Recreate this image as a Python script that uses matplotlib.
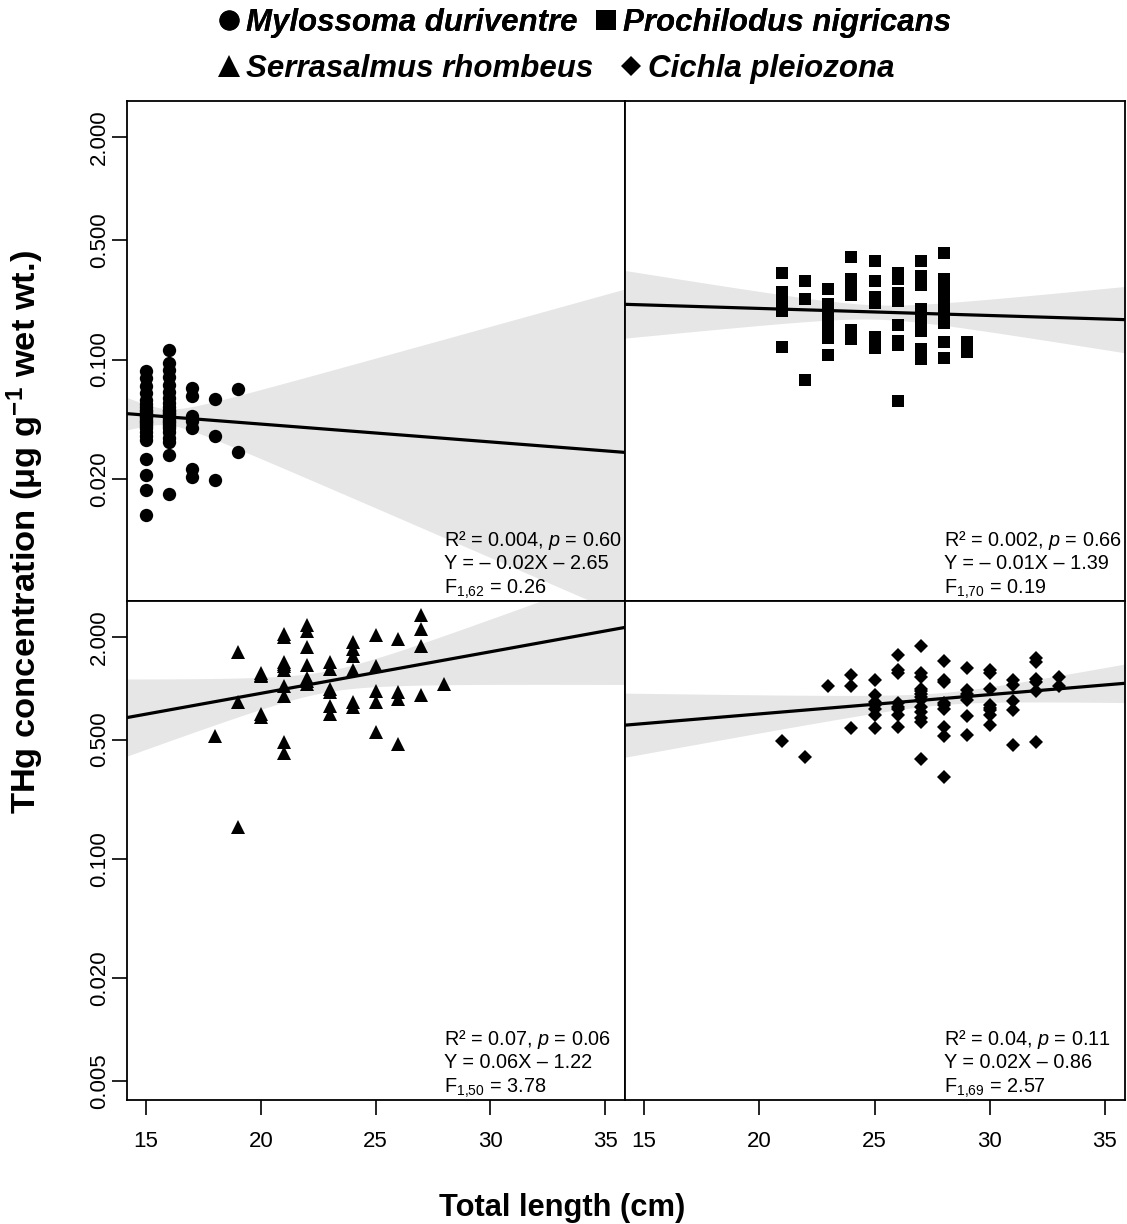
import numpy as np
import matplotlib
matplotlib.use('Agg')
import matplotlib.pyplot as plt
from matplotlib.lines import Line2D
from matplotlib import font_manager

plt.rcParams['font.family'] = ['Liberation Sans', 'DejaVu Sans']
plt.rcParams['mathtext.fontset'] = 'custom'
plt.rcParams['mathtext.rm'] = 'Liberation Sans'
plt.rcParams['mathtext.it'] = 'Liberation Sans:italic'
plt.rcParams['mathtext.bf'] = 'Liberation Sans:bold'

species = ['Mylossoma duriventre', 'Prochilodus nigricans',
           'Serrasalmus rhombeus', 'Cichla pleiozona']

# ---- Mylossoma duriventre: total length (cm), THg (ug/g wet wt.)
md_length = [15] * 26 + [16] * 26 + [17] * 7 + [18] * 3 + [19] * 2
md_thg = [0.0262, 0.0211, 0.0172, 0.0123,
          0.086, 0.078, 0.070, 0.064, 0.058, 0.055, 0.053, 0.051, 0.050, 0.049, 0.048,
          0.047, 0.046, 0.045, 0.044, 0.043, 0.042, 0.041, 0.040, 0.038, 0.036, 0.034,
          0.114, 0.095, 0.0278, 0.0163,
          0.087, 0.079, 0.071, 0.065, 0.060, 0.056, 0.053, 0.051, 0.050, 0.049, 0.048,
          0.047, 0.046, 0.045, 0.044, 0.043, 0.042, 0.041, 0.040, 0.038, 0.035, 0.033,
          0.068, 0.061, 0.047, 0.044, 0.040, 0.023, 0.0206,
          0.059, 0.036, 0.0197,
          0.067, 0.029]

# ---- Prochilodus nigricans
pn_length = [21] * 8 + [22] * 3 + [23] * 10 + [24] * 8 + [25] * 8 + [26] * 9 + [27] * 11 + [28] * 13 + [29] * 2
pn_thg = [0.320, 0.248, 0.238, 0.226, 0.214, 0.203, 0.192, 0.118,
          0.288, 0.226, 0.0759,
          0.258, 0.211, 0.200, 0.185, 0.172, 0.161, 0.149, 0.141, 0.134, 0.106,
          0.397, 0.296, 0.275, 0.258, 0.238, 0.149, 0.140, 0.132,
          0.377, 0.288, 0.232, 0.224, 0.214, 0.135, 0.125, 0.117,
          0.320, 0.296, 0.245, 0.232, 0.220, 0.159, 0.128, 0.122, 0.0572,
          0.377, 0.308, 0.290, 0.273, 0.197, 0.182, 0.170, 0.147, 0.115, 0.108, 0.101,
          0.420, 0.296, 0.273, 0.258, 0.240, 0.226, 0.210, 0.197, 0.186, 0.177, 0.163, 0.126, 0.102,
          0.126, 0.111]

# ---- Serrasalmus rhombeus
sr_length = [18] * 1 + [19] * 3 + [20] * 5 + [21] * 10 + [22] * 7 + [23] * 6 + [24] * 6 + [25] * 5 + [26] * 4 + [27] * 4 + [28] * 1
sr_thg = [0.527,
          1.63, 0.834, 0.153,
          1.23, 1.20, 1.18, 0.709, 0.681,
          2.08, 2.00, 1.43, 1.38, 1.34, 1.27, 1.03, 0.904, 0.486, 0.420,
          2.35, 2.17, 1.75, 1.37, 1.15, 1.10, 1.06,
          1.43, 1.30, 0.993, 0.95, 0.789, 0.709,
          1.87, 1.70, 1.55, 1.27, 0.834, 0.779,
          2.06, 1.35, 0.966, 0.834, 0.556,
          1.95, 0.953, 0.868, 0.473,
          2.69, 2.23, 1.77, 0.916,
          1.06]

# ---- Cichla pleiozona
cp_length = [21] * 1 + [22] * 1 + [23] * 1 + [24] * 3 + [25] * 7 + [26] * 8 + [27] * 13 + [28] * 9 + [29] * 7 + [30] * 8 + [31] * 5 + [32] * 6 + [33] * 2
cp_thg = [0.489,
          0.395,
          1.03,
          1.20, 1.03, 0.585,
          1.12, 0.916, 0.830, 0.80, 0.758, 0.693, 0.587,
          1.57, 1.27, 1.22, 0.822, 0.78, 0.758, 0.693, 0.593,
          1.76, 1.23, 1.16, 0.993, 0.96, 0.929, 0.891, 0.85, 0.776, 0.726, 0.670, 0.634, 0.387,
          1.44, 1.11, 1.09, 0.822, 0.80, 0.758, 0.593, 0.525, 0.303,
          1.32, 0.970, 0.929, 0.90, 0.848, 0.684, 0.530,
          1.28, 1.23, 0.993, 0.792, 0.77, 0.741, 0.693, 0.605,
          1.11, 1.04, 0.837, 0.741, 0.467,
          1.50, 1.42, 1.135, 1.09, 0.957, 0.484,
          1.16, 1.03]

# regression of ln(THg) on length
slopes = [-0.024, -0.0095, 0.056, 0.026]
intercepts = [-2.69, -1.425, -1.19, -0.867]

r2_text = ['0.004', '0.002', '0.07', '0.04']
p_text = ['0.60', '0.66', '0.06', '0.11']
eq_text = ['Y = \u2013 0.02X \u2013 2.65', 'Y = \u2013 0.01X \u2013 1.39',
           'Y = 0.06X \u2013 1.22', 'Y = 0.02X \u2013 0.86']
f_df = ['1{,}62', '1{,}70', '1{,}50', '1{,}69']
f_val = ['0.26', '0.19', '3.78', '2.57']

x_ticks = [15, 20, 25, 30, 35]
y_ticks_top = [2.0, 0.5, 0.1, 0.02]
y_ticks_bottom = [2.0, 0.5, 0.1, 0.02, 0.005]

lengths = [md_length, pn_length, sr_length, cp_length]
thgs = [md_thg, pn_thg, sr_thg, cp_thg]
markers = ['o', 's', '^', 'D']
msizes = [9.6, 8.6, 10.5, 7.0]


def ci_band(x, y, slope, intercept, xs):
    x = np.asarray(x, float)
    ly = np.log(np.asarray(y, float))
    n = len(x)
    resid = ly - (intercept + slope * x)
    s = np.sqrt(np.sum(resid ** 2) / (n - 2))
    xbar = x.mean()
    sxx = np.sum((x - xbar) ** 2)
    df = n - 2
    z = 1.959964
    t = z + (z ** 3 + z) / (4 * df) + (5 * z ** 5 + 16 * z ** 3 + 3 * z) / (96 * df ** 2)
    se = s * np.sqrt(1.0 / n + (xs - xbar) ** 2 / sxx)
    fit = intercept + slope * xs
    return np.exp(fit - t * se), np.exp(fit), np.exp(fit + t * se)


# narrow face for tick labels if present
installed = {f.name for f in font_manager.fontManager.ttflist}
if 'Liberation Sans Narrow' in installed:
    tick_family, tick_fs = 'Liberation Sans Narrow', 18
else:
    tick_family, tick_fs = 'Liberation Sans', 16

W, H = 1127, 1224
fig = plt.figure(figsize=(W / 100, H / 100), dpi=100)


def rect(l, t, r, b):
    return [l / W, 1 - b / H, (r - l) / W, (b - t) / H]


boxes = [(127, 101, 625, 601), (625, 101, 1125, 601),
         (127, 601, 625, 1100), (625, 601, 1125, 1100)]
XLIM = (14.17, 35.87)
YLIM = (10 ** -2.41, 10 ** 0.51)

for i in range(4):
    ax = fig.add_axes(rect(*boxes[i]))
    ax.set_yscale('log')
    ax.set_xlim(*XLIM)
    ax.set_ylim(*YLIM)
    xs = np.linspace(XLIM[0], XLIM[1], 300)
    lo, fit, hi = ci_band(lengths[i], thgs[i], slopes[i], intercepts[i], xs)
    ax.fill_between(xs, lo, hi, color='#e6e6e6', lw=0, zorder=1)
    ax.plot(lengths[i], thgs[i], ls='none', marker=markers[i], ms=msizes[i],
            color='black', mew=0, zorder=2)
    ax.plot(xs, fit, color='black', lw=2.3, zorder=3, solid_capstyle='butt')

    for sp in ax.spines.values():
        sp.set_linewidth(1.3)
        sp.set_zorder(5)
    ax.yaxis.set_minor_locator(matplotlib.ticker.NullLocator())

    left = (i % 2 == 0)
    bottom = (i >= 2)
    if left:
        yt = y_ticks_bottom if bottom else y_ticks_top
        ax.set_yticks(yt)
        ax.set_yticklabels(['%.3f' % v for v in yt], family=tick_family)
        ax.tick_params(axis='y', direction='out', length=11, width=1.2,
                       labelsize=tick_fs, pad=1, labelrotation=90)
        for lab in ax.get_yticklabels():
            lab.set_va('center')
    else:
        ax.set_yticks([])
    if bottom:
        ax.set_xticks(x_ticks)
        ax.set_xticklabels([str(v) for v in x_ticks], family=tick_family)
        ax.tick_params(axis='x', direction='out', length=11, width=1.2,
                       labelsize=tick_fs, pad=11)
    else:
        ax.set_xticks([])

    tr = ax.get_xaxis_transform()
    ax.text(28, 0.11, 'R\u00b2 = %s, $p$ = %s' % (r2_text[i], p_text[i]),
            transform=tr, fontsize=14.3, ha='left', va='baseline', zorder=6)
    ax.text(28, 0.064, eq_text[i], transform=tr, fontsize=14.3,
            ha='left', va='baseline', zorder=6)
    ax.text(28, 0.015, 'F$_{%s}$ = %s' % (f_df[i], f_val[i]), transform=tr,
            fontsize=14.3, ha='left', va='baseline', zorder=6)

fig.text(25 / W, 1 - 532 / H, 'THg concentration (\u03bcg g$^{\\mathbf{-1}}$ wet wt.)',
         rotation=90, ha='center', va='center', fontsize=24.8, fontweight='bold')
fig.text(562 / W, 1 - 1208 / H, 'Total length (cm)', ha='center', va='center',
         fontsize=22.2, fontweight='bold')

leg_prop = dict(family='Liberation Sans', weight='bold', style='italic', size=22.5)
row1 = [Line2D([], [], ls='none', marker='o', ms=14.5, color='k', mew=0),
        Line2D([], [], ls='none', marker='s', ms=14.0, color='k', mew=0)]
row2 = [Line2D([], [], ls='none', marker='^', ms=15.5, color='k', mew=0),
        Line2D([], [], ls='none', marker='D', ms=10.5, color='k', mew=0)]
leg1 = fig.legend(row1, species[:2], loc='center left', bbox_to_anchor=(218 / W, 1 - 23 / H),
                  ncol=2, frameon=False, borderpad=0, borderaxespad=0, handlelength=0.7,
                  handletextpad=0.2, columnspacing=0.55, prop=leg_prop)
fig.add_artist(leg1)
leg2 = fig.legend(row2, species[2:], loc='center left', bbox_to_anchor=(218 / W, 1 - 69 / H),
                  ncol=2, frameon=False, borderpad=0, borderaxespad=0, handlelength=0.7,
                  handletextpad=0.2, columnspacing=0.85, prop=leg_prop)

fig.savefig('out.png', dpi=100)
